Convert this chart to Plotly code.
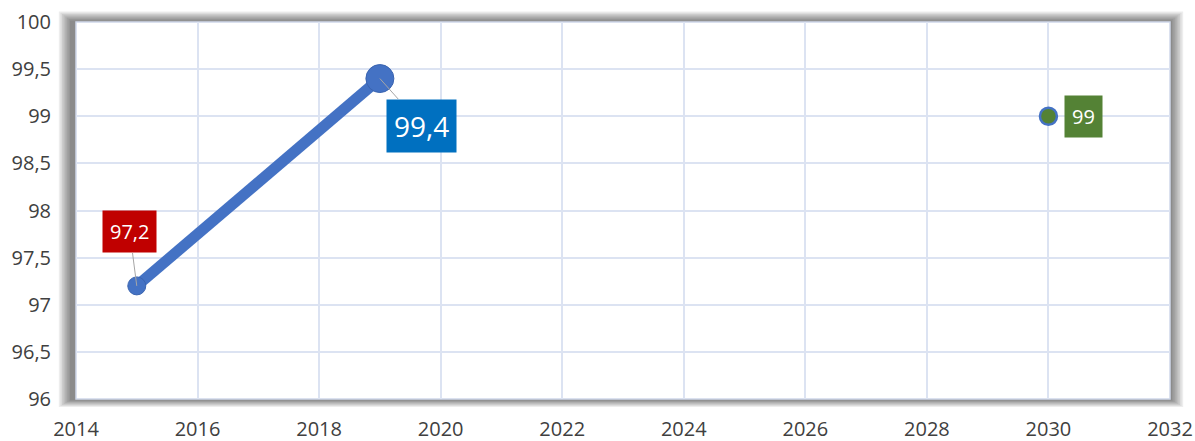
import plotly.graph_objects as go

# ---- data ----
years = [2015, 2019]
values = [97.2, 99.4]
target_year = [2030]
target_value = [99]
label_texts = ["97,2", "99,4"]
target_label = "99"

W, H = 1195, 441
ML, MR, MT, MB = 76, 25, 22, 42
PW, PH = W - ML - MR, H - MT - MB

def px_x(p):
    return p / PW

def px_y(p):
    return p / PH

FONT = "Open Sans"
BLUE = "#4472C4"

fig = go.Figure()

# line with markers
fig.add_trace(go.Scatter(
    x=years, y=values, mode="lines+markers",
    line=dict(color=BLUE, width=11),
    marker=dict(size=[18, 28], color=BLUE, opacity=1,
                line=dict(color="#3A64B0", width=1)),
    hoverinfo="skip", showlegend=False,
))
# target point
fig.add_trace(go.Scatter(
    x=target_year, y=target_value, mode="markers",
    marker=dict(size=17, color="#548235", opacity=1, line=dict(color=BLUE, width=2.5)),
    hoverinfo="skip", showlegend=False,
))

shapes = []
# soft shadow around the plot frame (darker on the left)
for i in range(8):
    e = 2 + i * 1.6
    shapes.append(dict(
        type="rect", xref="paper", yref="paper", layer="below",
        x0=-px_x(e + 4), x1=1 + px_x(e), y0=-px_y(e * 0.6), y1=1 + px_y(e * 0.8),
        line=dict(width=0), fillcolor="rgba(0,0,0,0.07)",
    ))
# white plot area with a light frame
shapes.append(dict(
    type="rect", xref="paper", yref="paper", layer="below",
    x0=0, x1=1, y0=0, y1=1,
    line=dict(color="#CFD8EA", width=1.5), fillcolor="white",
))

annotations = [
    dict(x=years[0], y=values[0], xref="x", yref="y", text=label_texts[0],
         showarrow=True, arrowhead=0, arrowwidth=1, arrowcolor="#A6A6A6",
         ax=-7, ay=-54, standoff=0,
         bgcolor="#C00000", borderpad=7,
         font=dict(family=FONT, size=20, color="white")),
    dict(x=years[1], y=values[1], xref="x", yref="y", text=label_texts[1],
         showarrow=True, arrowhead=0, arrowwidth=1, arrowcolor="#A6A6A6",
         ax=42, ay=47, standoff=0,
         bgcolor="#0070C0", borderpad=7,
         font=dict(family=FONT, size=28, color="white")),
    dict(x=target_year[0], y=target_value[0], xref="x", yref="y", text=target_label,
         showarrow=False, xanchor="left", yanchor="middle", xshift=16,
         bgcolor="#548235", borderpad=7,
         font=dict(family=FONT, size=20, color="white")),
]

fig.update_layout(
    width=W, height=H,
    margin=dict(l=ML, r=MR, t=MT, b=MB, pad=0, autoexpand=False),
    paper_bgcolor="white", plot_bgcolor="rgba(0,0,0,0)",
    separators=", ",
    font=dict(family=FONT, size=20, color="#404040"),
    shapes=shapes, annotations=annotations,
    xaxis=dict(range=[2014, 2032], dtick=2, tick0=2014, automargin=False,
               showgrid=True, gridcolor="#DCE3F2", gridwidth=1.5,
               zeroline=False, showline=False,
               ticks="outside", ticklen=12, tickcolor="rgba(0,0,0,0)",
               tickfont=dict(family=FONT, size=20, color="#404040")),
    yaxis=dict(range=[96, 100], dtick=0.5, tick0=96, automargin=False,
               showgrid=True, gridcolor="#DCE3F2", gridwidth=1.5,
               zeroline=False, showline=False,
               ticks="outside", ticklen=20, tickcolor="rgba(0,0,0,0)",
               tickfont=dict(family=FONT, size=20, color="#404040")),
)

fig.write_html(
    "out.html",
    config={"displayModeBar": False},
    post_script="document.body.style.margin='0';document.body.style.padding='0';"
                "document.body.style.overflow='hidden';",
)
